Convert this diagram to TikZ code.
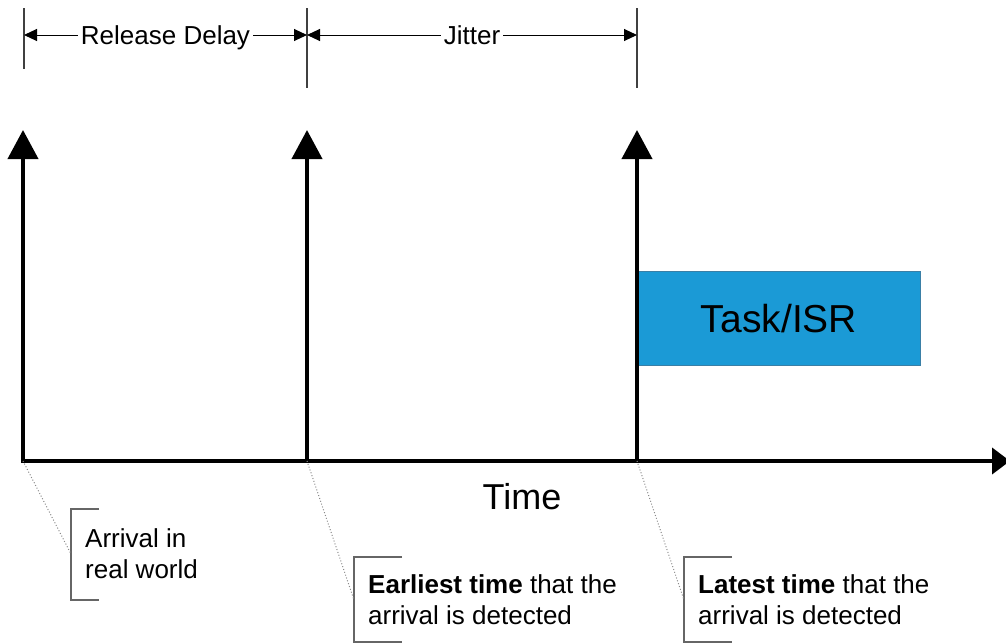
\documentclass[tikz,border=0pt]{standalone}
\usepackage{fontspec}
\setmainfont{Liberation Sans}
\usetikzlibrary{arrows.meta}

\definecolor{taskblue}{HTML}{1B9AD6}
\definecolor{taskedge}{HTML}{3A7FA6}
\definecolor{bracketgray}{HTML}{666666}
\definecolor{leadgray}{HTML}{8A8A8A}

\tikzset{
  event/.style={line width=4pt, -{Triangle[length=29pt,width=30pt]}},
  timeaxis/.style={line width=4pt, -{Triangle[length=18pt,width=26pt]}},
  extline/.style={line width=1.2pt, draw=black!75},
  dimline/.style={line width=1pt, {Triangle[length=13pt,width=12pt]}-{Triangle[length=13pt,width=12pt]}},
  dimlabel/.style={fill=white, inner xsep=3pt, inner ysep=4pt,
                   text height=18.6pt, text depth=0pt,
                   font=\fontsize{26}{30}\selectfont},
  leader/.style={line width=1pt, draw=leadgray, dotted},
  bracket/.style={line width=1.5pt, draw=bracketgray},
  calltext/.style={anchor=north west, inner sep=0pt, align=left,
                   font=\fontsize{26}{31}\selectfont},
  taskbox/.style={fill=taskblue, draw=taskedge, line width=1pt,
                  font=\fontsize{39}{44}\selectfont}
}

\begin{document}
\begin{tikzpicture}[x=1pt,y=-1pt]
  \useasboundingbox (0,0) rectangle (1006,643);

  % event instants on the time axis
  \coordinate (e1) at (23,461);
  \coordinate (e2) at (307,461);
  \coordinate (e3) at (637,461);
  \coordinate (t1) at (23,130);
  \coordinate (t2) at (307,130);
  \coordinate (t3) at (637,130);
  \coordinate (axend) at (1010,461);

  % task execution box
  \node[taskbox, minimum width=283pt, minimum height=94pt, inner sep=0pt, anchor=north west]
    (task) at (637,271) {Task/ISR};

  % time axis and event arrows
  \draw[timeaxis] (21,461) -- (axend);
  \draw[event] (e1) -- (t1);
  \draw[event] (e2) -- (t2);
  \draw[event] (e3) -- (t3);
  \node[font=\fontsize{36}{40}\selectfont, anchor=base] (time) at (522,509) {Time};

  % dimension lines at the top
  \coordinate (d1t) at (24,8);   \coordinate (d1b) at (24,69);
  \coordinate (d2t) at (307,8);  \coordinate (d2b) at (307,88);
  \coordinate (d3t) at (637,8);  \coordinate (d3b) at (637,88);
  \draw[extline] (d1t) -- (d1b);
  \draw[extline] (d2t) -- (d2b);
  \draw[extline] (d3t) -- (d3b);
  \coordinate (a1) at (24,35);
  \coordinate (a2) at (307,35);
  \coordinate (a3) at (637,35);
  \draw[dimline] (a1) -- node[dimlabel] (rd) {Release Delay} (a2);
  \draw[dimline] (a2) -- node[dimlabel] (jit) {Jitter} (a3);

  % callout 1
  \coordinate (b1t) at (71,509);  \coordinate (b1b) at (71,600);
  \coordinate (b1m) at (71,554);
  \draw[bracket] (99,509) -- (b1t) -- (b1b) -- (99,600);
  \draw[leader] (e1) -- (b1m);
  \node[calltext] (c1) at (85,528) {Arrival in\\real world};

  % callout 2
  \coordinate (b2t) at (354,557);  \coordinate (b2b) at (354,642);
  \coordinate (b2m) at (354,600);
  \draw[bracket] (402,557) -- (b2t) -- (b2b) -- (402,642);
  \draw[leader] (e2) -- (b2m);
  \node[calltext] (c2) at (368,574) {\textbf{Earliest time} that the\\arrival is detected};

  % callout 3
  \coordinate (b3t) at (684,557);  \coordinate (b3b) at (684,642);
  \coordinate (b3m) at (684,600);
  \draw[bracket] (732,557) -- (b3t) -- (b3b) -- (732,642);
  \draw[leader] (e3) -- (b3m);
  \node[calltext] (c3) at (698,574) {\textbf{Latest time} that the\\arrival is detected};
\end{tikzpicture}
\end{document}
